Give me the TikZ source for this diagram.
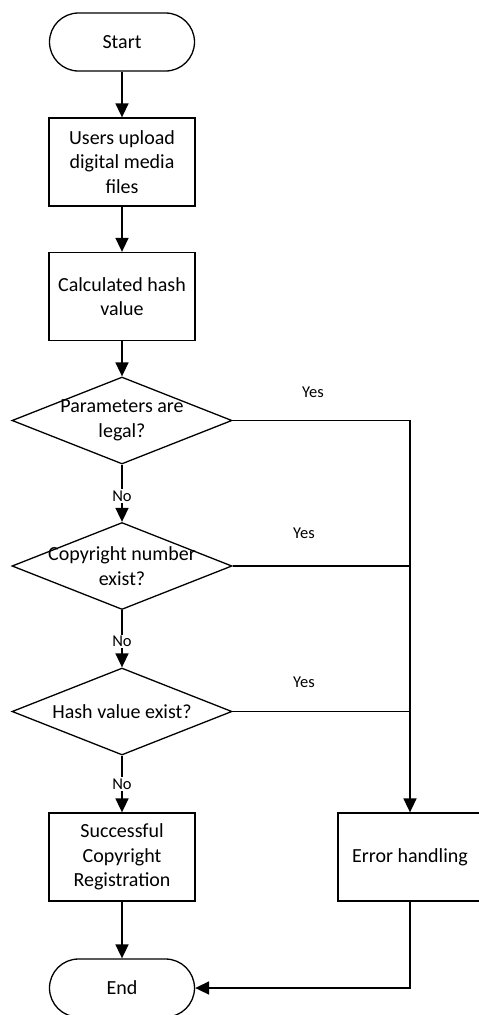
\documentclass[tikz,border=0pt]{standalone}
\usepackage{fontspec}
\setmainfont{Carlito}
\usetikzlibrary{shapes.geometric,arrows.meta}
\begin{document}
\begin{tikzpicture}[x=1pt,y=-1pt,
  line/.style={line width=1.7pt},
  arr/.style={line width=1.7pt,-{Triangle[length=14pt,width=13pt]}},
  term/.style={draw,line width=1.3pt,rounded corners=29pt,minimum width=145pt,minimum height=58pt,inner sep=0pt,font=\fontsize{20}{24}\selectfont},
  box/.style={draw,line width=1.3pt,minimum width=146pt,minimum height=88pt,inner sep=0pt,align=center,font=\fontsize{20}{24.5}\selectfont},
  dia/.style={draw,line width=1.3pt,diamond,minimum width=220pt,minimum height=87pt,inner sep=0pt},
  dtext/.style={align=center,font=\fontsize{20}{24.5}\selectfont,inner sep=0pt},
  lab/.style={font=\fontsize{16.5}{19}\selectfont,inner sep=1.5pt},
  nolab/.style={font=\fontsize{16.5}{19}\selectfont,fill=white,inner sep=1.5pt}
]
\useasboundingbox (0,0) rectangle (479,1015);
\clip (0,0) rectangle (479,1015);
\node[term] (start) at (122,42) {Start};
\node[box] (users) at (122,162) {Users upload\\digital media\\files};
\node[box] (calc) at (122,296.5) {Calculated hash\\value};
\node[dia] (d1) at (122,420.5) {};
\node[dtext] at (d1) {Parameters are\\legal?};
\node[dia] (d2) at (122,566) {};
\node[dtext] at (d2) {Copyright number\\exist?};
\node[dia] (d3) at (122,711.5) {};
\node[dtext] at (d3) {Hash value exist?};
\node[box] (succ) at (122,857) {Successful\\Copyright\\Registration};
\node[box,minimum width=144pt] (err) at (410,857) {Error handling};
\node[term] (end) at (122,988) {End};

\draw[arr] (start) -- (users);
\draw[arr] (users) -- (calc);
\draw[arr] (calc) -- (d1.north);
\draw[arr] (d1.south) -- node[nolab,pos=0.55] {No} (d2.north);
\draw[arr] (d2.south) -- node[nolab,pos=0.55] {No} (d3.north);
\draw[arr] (d3.south) -- node[nolab,pos=0.5] {No} (succ.north);
\draw[arr] (succ) -- (end);
\draw[arr] (d1.east) -| (err.north);
\draw[line] (d2.east) -- (d2.east -| err.north);
\draw[line] (d3.east) -- (d3.east -| err.north);
\draw[arr] (err.south) |- (end.east);
\node[lab] (y1) at (313,392) {Yes};
\node[lab] (y2) at (304,533) {Yes};
\node[lab] (y3) at (304,682) {Yes};
\end{tikzpicture}
\end{document}
